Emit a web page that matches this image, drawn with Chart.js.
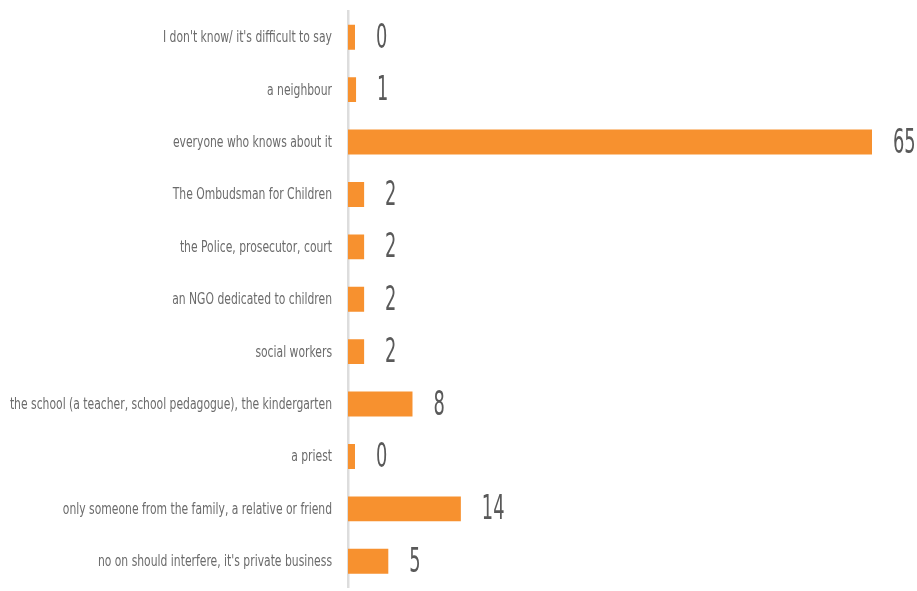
<!DOCTYPE html>
<html>
<head>
<meta charset="utf-8">
<script src="https://cdn.jsdelivr.net/npm/chart.js@4"></script>
<style>
  body { margin: 0; background: #fff; }
  #wrap { width: 917px; height: 591px; }
</style>
</head>
<body>
<div id="wrap"><canvas id="myChart"></canvas></div>
<script>
const answers = [
    "I don't know/ it's difficult to say",
    "a neighbour",
    "everyone who knows about it",
    "The Ombudsman for Children",
    "the Police, prosecutor, court",
    "an NGO dedicated to children",
    "social workers",
    "the school (a teacher, school pedagogue), the kindergarten",
    "a priest",
    "only someone from the family, a relative or friend",
    "no on should interfere, it's private business"
]
const shares = [0, 1, 65, 2, 2, 2, 2, 8, 0, 14, 5]

const labelFont = "'DejaVu Sans Condensed', 'Liberation Sans Narrow', sans-serif"

// narrow text: draw with a horizontal squeeze around (x, y)
function squeezedText(ctx, text, x, y, size, sx, align, color) {
    ctx.save()
    ctx.translate(x, y)
    ctx.scale(sx, 1)
    ctx.font = `${size}px ${labelFont}`
    ctx.fillStyle = color
    ctx.textAlign = align
    ctx.textBaseline = 'middle'
    ctx.fillText(text, 0, 0)
    ctx.restore()
}

// category names beside the axis, numbers past the end of each bar
const barText = {
    id: 'barText',
    afterDatasetsDraw(chart) {
        const ctx = chart.ctx
        const yScale = chart.scales.y
        const meta = chart.getDatasetMeta(0)
        answers.forEach((name, i) => {
            squeezedText(ctx, name, yScale.right - 16, yScale.getPixelForTick(i) + 1, 15, 0.8, 'right', '#6b6b6b')
        })
        meta.data.forEach((bar, i) => {
            squeezedText(ctx, String(shares[i]), bar.x + 21, bar.y + 2, 33, 0.6, 'left', '#595959')
        })
    }
}

let data = {
    labels: answers,
    datasets: [{
        data: shares,
        backgroundColor: '#F7912F',
        borderWidth: 0,
        minBarLength: 7,
        barPercentage: 0.95,
        categoryPercentage: 0.5
    }]
}

let config = {
    type: 'bar',
    data: data,
    options: {
        indexAxis: 'y',
        responsive: true,
        maintainAspectRatio: false,
        animation: false,
        layout: { padding: { top: 11, bottom: 3.5, right: 45, left: 0 } },
        plugins: {
            legend: { display: false },
            tooltip: { enabled: false }
        },
        scales: {
            x: {
                display: false,
                min: 0,
                max: 65
            },
            y: {
                afterFit: scale => {
                    scale.width = 348
                    scale.paddingTop = 0
                    scale.paddingBottom = 0
                },
                grid: { display: false, drawTicks: false },
                border: { display: true, color: '#dddddd', width: 2.5 },
                ticks: { display: false }
            }
        }
    },
    plugins: [barText]
}

let myChart = new Chart(document.getElementById('myChart'), config)
</script>
</body>
</html>
